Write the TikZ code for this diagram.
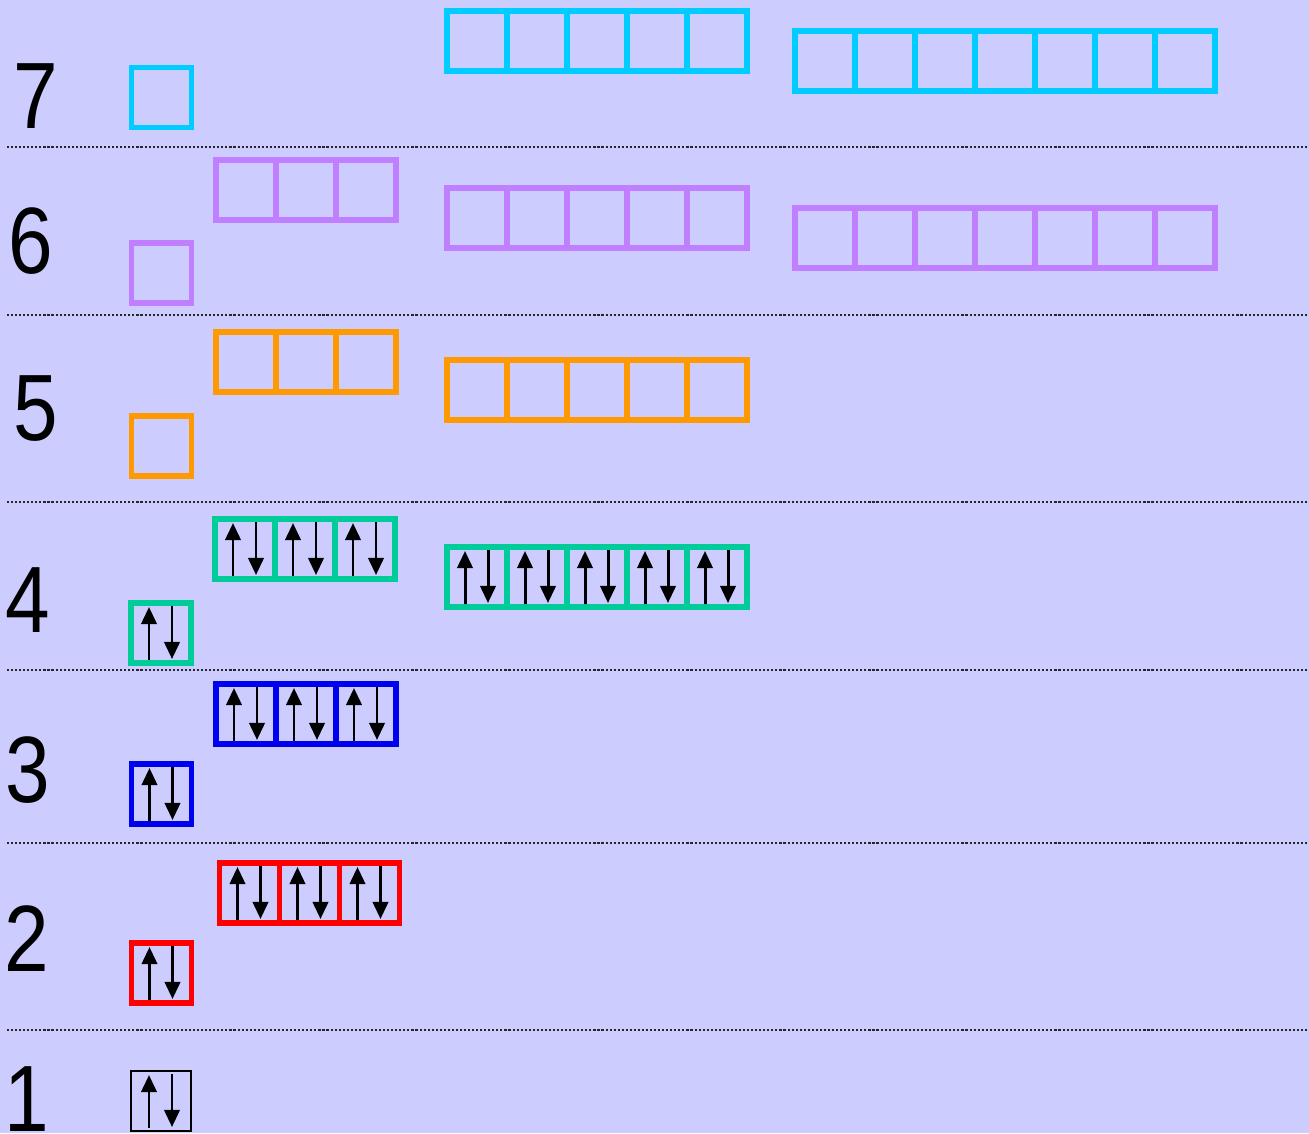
\documentclass[tikz,border=0pt]{standalone}
\usepackage{fontspec}
\setmainfont{Liberation Sans}
\usetikzlibrary{arrows.meta}
\definecolor{bg}{HTML}{CCCCFF}
\definecolor{ocyan}{HTML}{00CCFF}
\definecolor{opurple}{HTML}{BF7FFF}
\definecolor{oorange}{HTML}{FF9900}
\definecolor{ogreen}{HTML}{00CC99}
\definecolor{oblue}{HTML}{0000EE}
\definecolor{ored}{HTML}{FF0000}
\tikzset{
  orb/.style={line width=1.56pt},
  spinup/.style={line width=0.85pt,-{Triangle[width=4.4pt,length=4.9pt]}},
  spindn/.style={line width=0.85pt,-{Triangle[width=4.4pt,length=4.9pt]}},
  sepline/.style={line width=0.55pt,dash pattern=on 0.6pt off 0.55pt,black!85},
  shell/.style={inner sep=0pt,anchor=base west,font=\fontsize{26.8}{30}\selectfont}
}
% #1 colour, #2 x, #3 y (top-left, centre of line), #4 number of cells, #5 filled (1/0), #6 style
\newcommand\orbrow[6]{%
  \foreach \i in {1,...,#4}{%
    \draw[#6,#1] ({#2+60*(\i-1)},#3) rectangle ++(60,60);
    \ifnum#5=1
      \draw[spinup] ({#2+60*(\i-1)+18},{#3+57}) -- ++(0,-53);
      \draw[spindn] ({#2+60*(\i-1)+41},{#3+3}) -- ++(0,53);
    \fi
  }%
}
\begin{document}
\begin{tikzpicture}[x=0.01cm,y=-0.01cm]
\useasboundingbox (0,0) rectangle (1309,1133);
\fill[bg] (0,0) rectangle (1309,1133);
\clip (0,0) rectangle (1309,1133);
% separators
\foreach \yy in {147,315,502,670,843,1030}{\draw[sepline] (7,\yy) -- (1309,\yy);}
% shell numbers
\node[shell] (n7) at (13,128) {\scalebox{0.85}[1]{7}};
\node[shell] (n6) at (8,273) {\scalebox{0.85}[1]{6}};
\node[shell] (n5) at (13,440) {\scalebox{0.85}[1]{5}};
\node[shell] (n4) at (5,632) {\scalebox{0.85}[1]{4}};
\node[shell] (n3) at (5,802) {\scalebox{0.85}[1]{3}};
\node[shell] (n2) at (4,971) {\scalebox{0.85}[1]{2}};
\node[shell] (n1) at (4,1131) {\scalebox{0.85}[1]{1}};
% shell 7
\orbrow{ocyan}{131.5}{67.5}{1}{0}{orb}
\orbrow{ocyan}{447}{11}{5}{0}{orb}
\orbrow{ocyan}{795}{31}{7}{0}{orb}
% shell 6
\orbrow{opurple}{131.5}{243}{1}{0}{orb}
\orbrow{opurple}{216}{160}{3}{0}{orb}
\orbrow{opurple}{447}{188}{5}{0}{orb}
\orbrow{opurple}{795}{208}{7}{0}{orb}
% shell 5
\orbrow{oorange}{131.5}{416}{1}{0}{orb}
\orbrow{oorange}{216}{332}{3}{0}{orb}
\orbrow{oorange}{447}{360}{5}{0}{orb}
% shell 4
\orbrow{ogreen}{131}{603}{1}{1}{orb}
\orbrow{ogreen}{215}{519}{3}{1}{orb}
\orbrow{ogreen}{447}{547}{5}{1}{orb}
% shell 3
\orbrow{oblue}{131.5}{764}{1}{1}{orb}
\orbrow{oblue}{216}{684}{3}{1}{orb}
% shell 2
\orbrow{ored}{131.5}{943}{1}{1}{orb}
\orbrow{ored}{219.5}{863}{3}{1}{orb}
% shell 1
\orbrow{black}{131}{1071}{1}{1}{line width=0.57pt}
\end{tikzpicture}
\end{document}
